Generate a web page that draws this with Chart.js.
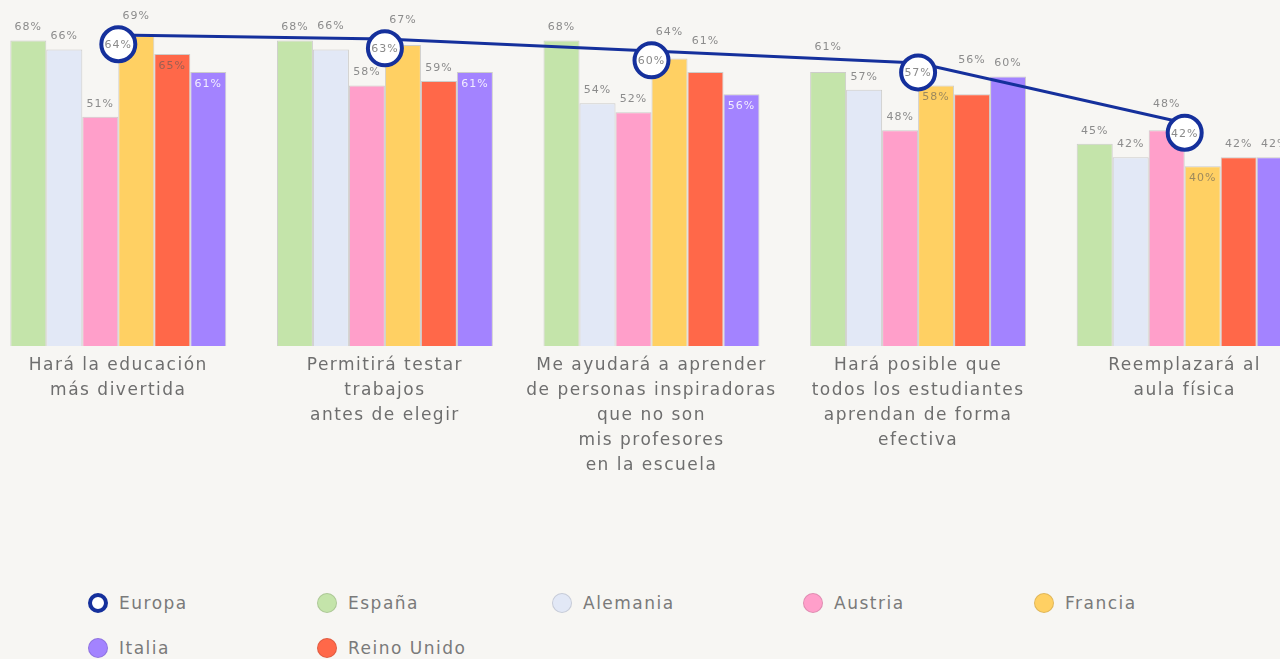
<!DOCTYPE html>
<html lang="es">
<head>
<meta charset="utf-8">
<title>Realidad virtual en la educación</title>
<script src="https://cdn.jsdelivr.net/npm/chart.js@4.4.1/dist/chart.umd.min.js"></script>
<style>
  html, body { margin: 0; padding: 0; background: #f7f6f3; overflow: hidden; width: 1280px; height: 659px; }
  #wrap { position: absolute; left: -15px; top: 0; width: 1333px; height: 476px; }
  #legend {
    position: absolute; left: 88px; top: 592px;
    display: grid; grid-template-columns: 229px 235px 251px 231px 231px; row-gap: 23px;
    font: 17px "DejaVu Sans", sans-serif; letter-spacing: 1.5px; color: #7a7a7a;
  }
  .item { display: flex; align-items: center; height: 22px; white-space: nowrap; }
  .dot { width: 20px; height: 20px; border-radius: 50%; box-sizing: border-box; border: 1px solid rgba(0,0,0,0.12); margin-right: 11px; flex: none; }
</style>
</head>
<body>
<div id="wrap"><canvas id="chart"></canvas></div>
<div id="legend"></div>
<script>
const categories = [
  ['Hará la educación', 'más divertida'],
  ['Permitirá testar', 'trabajos', 'antes de elegir'],
  ['Me ayudará a aprender', 'de personas inspiradoras', 'que no son', 'mis profesores', 'en la escuela'],
  ['Hará posible que', 'todos los estudiantes', 'aprendan de forma', 'efectiva'],
  ['Reemplazará al', 'aula física']
];

const europa = [64, 63, 60, 57, 42];
const espana = [68, 68, 68, 61, 45];
const alemania = [66, 66, 54, 57, 42];
const austria = [51, 58, 52, 48, 48];
const francia = [69, 67, 64, 58, 40];
const reinoUnido = [65, 59, 61, 56, 42];
const italia = [61, 61, 56, 60, 42];

const barSeries = [
  { label: 'España', data: espana, color: '#c4e4aa' },
  { label: 'Alemania', data: alemania, color: '#e2e8f6' },
  { label: 'Austria', data: austria, color: '#ff9fca' },
  { label: 'Francia', data: francia, color: '#ffd063' },
  { label: 'Reino Unido', data: reinoUnido, color: '#ff6849' },
  { label: 'Italia', data: italia, color: '#a383ff' }
];

// order of the entries in the legend grid
const legendOrder = ['Europa', 'España', 'Alemania', 'Austria', 'Francia', 'Italia', 'Reino Unido'];

// labels written inside the top of the bar instead of above it
const insideLabels = { 'Reino Unido': [0], 'Italia': [0, 1, 2], 'Francia': [3, 4] };

const LINE_BLUE = '#15309c';
const FONT = '"DejaVu Sans", sans-serif';
const RING = 19;

// topmost pixel of the Europa line and rings over a span of x,
// or null if nothing there overlaps the label box
function obstacleTop(chart, x0, x1, yTop, yBottom) {
  const line = chart.getDatasetMeta(0).data;
  const rings = chart.getDatasetMeta(1).data;
  let top = Infinity, hit = false;
  for (let x = x0; x <= x1; x += 2) {
    for (let k = 0; k < line.length - 1; k++) {
      const a = line[k], b = line[k + 1];
      if (x >= a.x && x <= b.x) {
        const ly = a.y + (b.y - a.y) * (x - a.x) / (b.x - a.x);
        top = Math.min(top, ly - 1.5);
        if (ly - 1.5 < yBottom && ly + 1.5 > yTop) hit = true;
      }
    }
    rings.forEach(p => {
      const dx = Math.abs(x - p.x);
      if (dx < RING) {
        top = Math.min(top, p.y - Math.sqrt(RING * RING - dx * dx));
      }
      const r = RING - 2;
      if (dx < r) {
        const dy = Math.sqrt(r * r - dx * dx);
        if (p.y - dy < yBottom && p.y + dy > yTop) hit = true;
      }
    });
  }
  return hit ? top : null;
}

const valueLabels = {
  id: 'valueLabels',
  beforeDraw(chart) {
    chart.ctx.letterSpacing = '1.5px';
  },
  afterDatasetsDraw(chart) {
    const ctx = chart.ctx;
    ctx.save();
    ctx.font = '11px ' + FONT;
    ctx.letterSpacing = '1px';
    ctx.textAlign = 'center';
    ctx.textBaseline = 'middle';
    chart.data.datasets.forEach((ds, di) => {
      if (ds.id === 'europaLine') return;
      const meta = chart.getDatasetMeta(di);
      meta.data.forEach((el, i) => {
        const text = ds.data[i] + '%';
        if (ds.id === 'europaRings') {
          ctx.fillStyle = '#8a8a8a';
          ctx.fillText(text, el.x, el.y + 1);
          return;
        }
        const inside = (insideLabels[ds.label] || []).includes(i);
        if (inside) {
          ctx.fillStyle = ds.label === 'Italia' ? 'rgba(255,255,255,0.85)' : 'rgba(90,90,90,0.6)';
          ctx.fillText(text, el.x, el.y + 12);
          return;
        }
        // above the bar, lifted over the Europa line where they would cross
        let y = el.y - 13;
        const top = obstacleTop(chart, el.x - 14, el.x + 14, y - 6, y + 6);
        if (top !== null) y = top - 10;
        ctx.fillStyle = '#8c8c8c';
        ctx.fillText(text, el.x, y);
      });
    });
    ctx.restore();
  }
};

const datasets = [
  {
    id: 'europaLine',
    type: 'line',
    label: 'Europa',
    data: europa,
    yAxisID: 'y2',
    order: 1,
    borderColor: LINE_BLUE,
    borderWidth: 3,
    tension: 0,
    pointRadius: 0
  },
  {
    id: 'europaRings',
    type: 'line',
    label: 'Europa',
    data: europa,
    yAxisID: 'y3',
    order: 0,
    showLine: false,
    pointRadius: RING - 2,
    pointBorderWidth: 4,
    pointBorderColor: LINE_BLUE,
    pointBackgroundColor: '#ffffff'
  }
].concat(barSeries.map(s => ({
  type: 'bar',
  label: s.label,
  data: s.data,
  yAxisID: 'y',
  order: 2,
  backgroundColor: s.color,
  borderColor: 'rgba(110,110,110,0.3)',
  borderWidth: 1,
  barPercentage: 1,
  categoryPercentage: 0.81
})));

new Chart(document.getElementById('chart'), {
  data: { labels: categories, datasets: datasets },
  options: {
    responsive: true,
    maintainAspectRatio: false,
    animation: false,
    layout: { padding: 0, autoPadding: false },
    plugins: {
      legend: { display: false },
      tooltip: { enabled: false }
    },
    scales: {
      x: {
        grid: { display: false, drawTicks: false },
        border: { display: false },
        ticks: {
          autoSkip: false,
          maxRotation: 0,
          padding: 7,
          color: '#6e6e6e',
          font: { family: FONT, size: 17, lineHeight: '25px' }
        },
        afterFit(scale) { scale.height = 130; }
      },
      y: { display: false, min: 0, max: 77 },
      y2: { display: false, min: -13.75, max: 72.75 },
      y3: { display: false, min: -11, max: 75 }
    }
  },
  plugins: [valueLabels]
});

// legend in a fixed grid below the chart
const legend = document.getElementById('legend');
const legendColors = { 'Europa': '#ffffff' };
barSeries.forEach(s => { legendColors[s.label] = s.color; });
legendOrder.forEach(name => {
  const item = document.createElement('div');
  item.className = 'item';
  const dot = document.createElement('span');
  dot.className = 'dot';
  dot.style.background = legendColors[name];
  if (name === 'Europa') dot.style.border = '4px solid ' + LINE_BLUE;
  const txt = document.createElement('span');
  txt.textContent = name;
  item.appendChild(dot);
  item.appendChild(txt);
  legend.appendChild(item);
});
</script>
</body>
</html>
